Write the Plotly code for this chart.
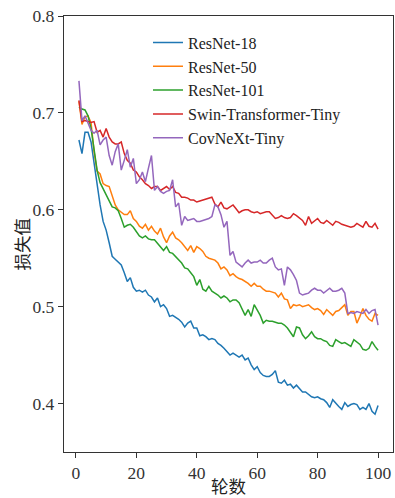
import plotly.graph_objects as go

epochs = list(range(1, 101))

resnet18 = [0.672, 0.658, 0.680, 0.680, 0.670, 0.648, 0.628, 0.605, 0.588, 0.579,
            0.566, 0.552, 0.549, 0.546, 0.543, 0.535, 0.526, 0.530, 0.520, 0.516,
            0.517, 0.515, 0.517, 0.512, 0.510, 0.505, 0.509, 0.500, 0.502, 0.498,
            0.490, 0.491, 0.489, 0.487, 0.484, 0.479, 0.483, 0.485, 0.478, 0.478,
            0.470, 0.471, 0.469, 0.466, 0.467, 0.466, 0.462, 0.460, 0.457, 0.453,
            0.450, 0.452, 0.450, 0.448, 0.450, 0.445, 0.447, 0.440, 0.435, 0.438,
            0.432, 0.429, 0.428, 0.428, 0.430, 0.434, 0.422, 0.421, 0.424, 0.419,
            0.420, 0.416, 0.419, 0.415, 0.412, 0.412, 0.409, 0.407, 0.406, 0.407,
            0.405, 0.404, 0.401, 0.396, 0.404, 0.400, 0.397, 0.394, 0.401, 0.397,
            0.399, 0.400, 0.399, 0.394, 0.396, 0.394, 0.400, 0.392, 0.389, 0.398]

resnet50 = [0.712, 0.688, 0.696, 0.697, 0.690, 0.660, 0.640, 0.637, 0.627, 0.625,
            0.624, 0.614, 0.605, 0.600, 0.597, 0.595, 0.595, 0.599, 0.591, 0.588,
            0.583, 0.581, 0.585, 0.579, 0.583, 0.578, 0.575, 0.581, 0.572, 0.566,
            0.573, 0.577, 0.571, 0.569, 0.566, 0.562, 0.558, 0.563, 0.556, 0.562,
            0.560, 0.557, 0.552, 0.550, 0.549, 0.548, 0.545, 0.539, 0.541, 0.538,
            0.532, 0.534, 0.531, 0.529, 0.528, 0.526, 0.524, 0.521, 0.524, 0.521,
            0.521, 0.518, 0.516, 0.516, 0.515, 0.514, 0.510, 0.514, 0.508, 0.507,
            0.498, 0.502, 0.501, 0.502, 0.500, 0.501, 0.502, 0.499, 0.497, 0.498,
            0.496, 0.492, 0.497, 0.494, 0.491, 0.495, 0.496, 0.499, 0.502, 0.491,
            0.495, 0.495, 0.483, 0.490, 0.498, 0.491, 0.487, 0.485, 0.493, 0.491]

resnet101 = [0.706, 0.704, 0.703, 0.697, 0.684, 0.663, 0.641, 0.628, 0.622, 0.616,
             0.610, 0.603, 0.602, 0.599, 0.591, 0.582, 0.584, 0.585, 0.582, 0.578,
             0.573, 0.571, 0.573, 0.570, 0.569, 0.569, 0.565, 0.561, 0.558, 0.562,
             0.556, 0.555, 0.552, 0.548, 0.545, 0.540, 0.539, 0.535, 0.531, 0.522,
             0.528, 0.518, 0.516, 0.521, 0.516, 0.514, 0.512, 0.509, 0.511, 0.509,
             0.505, 0.507, 0.507, 0.504, 0.498, 0.491, 0.497, 0.490, 0.502, 0.496,
             0.491, 0.483, 0.486, 0.485, 0.485, 0.484, 0.483, 0.483, 0.481, 0.478,
             0.474, 0.469, 0.479, 0.478, 0.471, 0.467, 0.470, 0.474, 0.469, 0.467,
             0.467, 0.465, 0.464, 0.460, 0.459, 0.466, 0.464, 0.462, 0.463, 0.461,
             0.459, 0.466, 0.463, 0.461, 0.456, 0.455, 0.457, 0.464, 0.459, 0.455]

swin_tiny = [0.713, 0.691, 0.692, 0.691, 0.690, 0.691, 0.680, 0.682, 0.675, 0.684,
             0.675, 0.670, 0.668, 0.668, 0.670, 0.658, 0.651, 0.648, 0.641, 0.639,
             0.634, 0.631, 0.627, 0.625, 0.622, 0.624, 0.624, 0.620, 0.622, 0.624,
             0.621, 0.624, 0.618, 0.617, 0.613, 0.613, 0.612, 0.610, 0.610, 0.608,
             0.609, 0.610, 0.611, 0.612, 0.613, 0.606, 0.603, 0.608, 0.602, 0.601,
             0.603, 0.605, 0.601, 0.597, 0.599, 0.600, 0.600, 0.598, 0.597, 0.598,
             0.596, 0.597, 0.598, 0.598, 0.595, 0.591, 0.592, 0.594, 0.592, 0.591,
             0.592, 0.596, 0.594, 0.591, 0.589, 0.584, 0.593, 0.586, 0.589, 0.591,
             0.587, 0.586, 0.589, 0.586, 0.584, 0.588, 0.587, 0.585, 0.584, 0.583,
             0.582, 0.583, 0.586, 0.584, 0.582, 0.588, 0.583, 0.582, 0.586, 0.580]

convnext_tiny = [0.733, 0.692, 0.697, 0.689, 0.682, 0.679, 0.682, 0.667, 0.672, 0.675,
                 0.656, 0.646, 0.660, 0.668, 0.641, 0.651, 0.662, 0.644, 0.653, 0.627,
                 0.631, 0.639, 0.629, 0.643, 0.656, 0.620, 0.624, 0.619, 0.617, 0.619,
                 0.620, 0.631, 0.603, 0.607, 0.584, 0.593, 0.589, 0.590, 0.591, 0.588,
                 0.588, 0.589, 0.590, 0.591, 0.593, 0.605, 0.603, 0.595, 0.582, 0.588,
                 0.553, 0.557, 0.546, 0.543, 0.541, 0.545, 0.548, 0.545, 0.546, 0.546,
                 0.548, 0.545, 0.545, 0.548, 0.550, 0.541, 0.538, 0.539, 0.522, 0.541,
                 0.538, 0.533, 0.527, 0.514, 0.512, 0.513, 0.514, 0.517, 0.519, 0.517,
                 0.517, 0.514, 0.517, 0.519, 0.516, 0.516, 0.517, 0.519, 0.514, 0.493,
                 0.494, 0.493, 0.495, 0.494, 0.493, 0.497, 0.493, 0.496, 0.497, 0.481]

series_names = ["ResNet-18", "ResNet-50", "ResNet-101", "Swin-Transformer-Tiny", "CovNeXt-Tiny"]
series_values = [resnet18, resnet50, resnet101, swin_tiny, convnext_tiny]
colors = ["#1f77b4", "#ff7f0e", "#2ca02c", "#d62728", "#9467bd"]

x_ticks = [0, 20, 40, 60, 80, 100]
y_ticks = [0.4, 0.5, 0.6, 0.7, 0.8]
y_tick_labels = ["0.4", "0.5", "0.6", "0.7", "0.8"]

x_title = "轮数"
y_title = "损失值"

fig = go.Figure()
for name, vals, c in zip(series_names, series_values, colors):
    fig.add_trace(go.Scatter(x=epochs, y=vals, mode="lines", name=name,
                             line=dict(color=c, width=1.5)))

serif = "Liberation Serif, Times New Roman, serif"
cjk = "Noto Sans CJK SC"

axis_common = dict(showline=True, linecolor="#333", linewidth=1.3, mirror=True,
                   ticks="outside", ticklen=5, tickwidth=1.2, tickcolor="#333",
                   showgrid=False, zeroline=False, automargin=False,
                   tickfont=dict(family=serif, size=17.5, color="#333"))

fig.update_layout(
    width=395, height=498,
    margin=dict(l=64, r=2, t=16, b=46, autoexpand=False),
    paper_bgcolor="white", plot_bgcolor="white",
    font=dict(family=serif, color="#222"),
    showlegend=True,
    legend=dict(x=0.2553, y=0.978, xanchor="left", yanchor="top",
                bgcolor="rgba(0,0,0,0)", borderwidth=0,
                font=dict(family=serif, size=16, color="#222"),
                tracegroupgap=0),
    annotations=[
        dict(text=x_title, xref="paper", yref="paper", x=0.4985, y=-0.0757,
             showarrow=False, xanchor="center", yanchor="middle",
             font=dict(family=cjk, size=17.5, color="#222")),
        dict(text=y_title, xref="paper", yref="paper", x=-0.1277, y=0.478,
             showarrow=False, xanchor="center", yanchor="middle", textangle=-90,
             font=dict(family=cjk, size=17.5, color="#222")),
    ],
)
fig.update_xaxes(range=[-3.95, 104.95], tickvals=x_ticks, **axis_common)
fig.update_yaxes(range=[0.35, 0.8], tickvals=y_ticks, ticktext=y_tick_labels, **axis_common)

fig.write_html("out.html", config={"displayModeBar": False},
               post_script="document.body.style.margin='0';document.body.style.overflow='hidden';")
